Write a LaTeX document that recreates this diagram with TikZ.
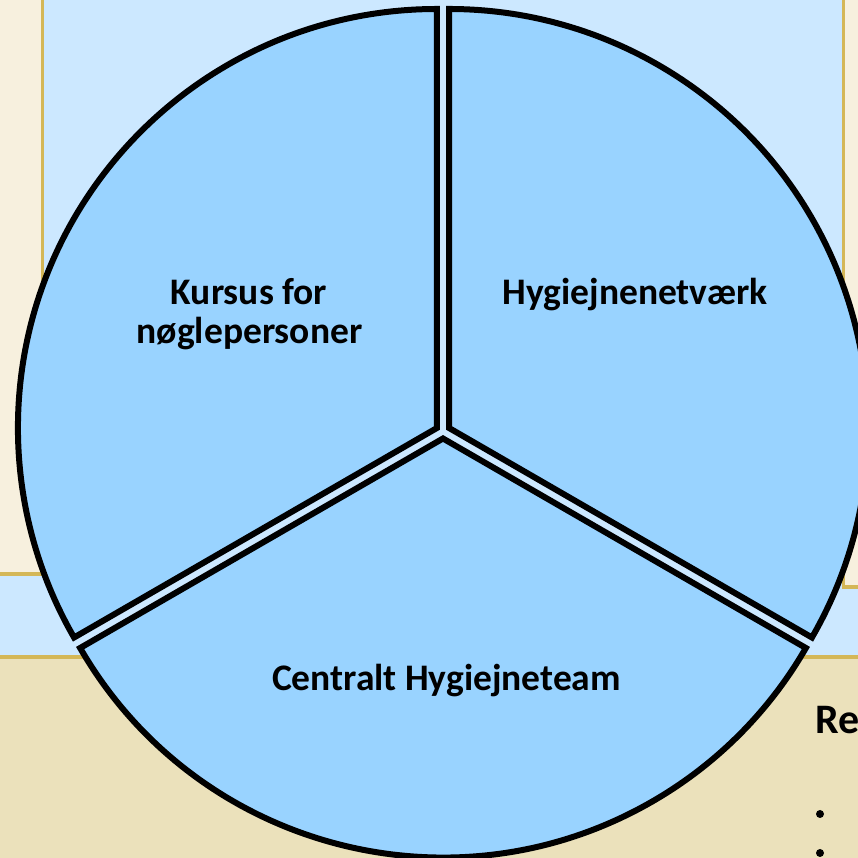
\documentclass[tikz,border=0pt]{standalone}
\usepackage{fontspec}
\setmainfont{Carlito}
\definecolor{bgblue}{HTML}{CCE8FF}
\definecolor{pieblue}{HTML}{99D3FF}
\definecolor{cream}{HTML}{F7F0DE}
\definecolor{beige}{HTML}{EBE1BB}
\definecolor{gold}{HTML}{D4B757}
\tikzset{
  sector/.style={fill=pieblue, draw=black, line width=6pt, line join=miter},
  label/.style={inner sep=0pt, anchor=base, font=\fontsize{37.5}{45}\selectfont\bfseries},
  boxline/.style={draw=gold, line width=3.2pt}
}
\begin{document}
\begin{tikzpicture}[x=1pt,y=1pt]
\useasboundingbox (0,0) rectangle (858,858);
\clip (0,0) rectangle (858,858);
% background
\fill[bgblue] (0,0) rectangle (858,858);
% left cream box
\fill[cream] (-10,284) rectangle (42.5,870);
\draw[boxline] (-10,284) -- (42.5,284) -- (42.5,870);
% right cream box
\fill[cream] (843.5,271) rectangle (870,870);
\draw[boxline] (870,271) -- (843.5,271) -- (843.5,870);
% bottom beige box
\fill[beige] (-10,-10) rectangle (870,201);
\draw[boxline] (-10,201) -- (870,201);
% partial text at right
\node[inner sep=0pt, anchor=base west, font=\fontsize{42}{50}\selectfont\bfseries] (re) at (815,124) {Re};
\fill (820,44) circle (4);
\fill (820,5) circle (4);
% pie sectors
\coordinate (ctl) at (436.94,430);
\coordinate (ctr) at (449.06,430);
\coordinate (cb) at (443,419.5);
\draw[sector] (ctl) -- ++(90:419) arc[start angle=90, end angle=210, radius=419] -- cycle;
\draw[sector] (ctr) -- ++(-30:419) arc[start angle=-30, end angle=90, radius=419] -- cycle;
\draw[sector] (cb) -- ++(210:419) arc[start angle=210, end angle=330, radius=419] -- cycle;
% labels
\node[label] (k1) at (249,553) {Kursus for};
\node[label] (k2) at (249.5,514) {nøglepersoner};
\node[label] (hn) at (635,553) {Hygiejnenetværk};
\node[label] (ch) at (446.5,167.5) {Centralt Hygiejneteam};
\end{tikzpicture}
\end{document}
